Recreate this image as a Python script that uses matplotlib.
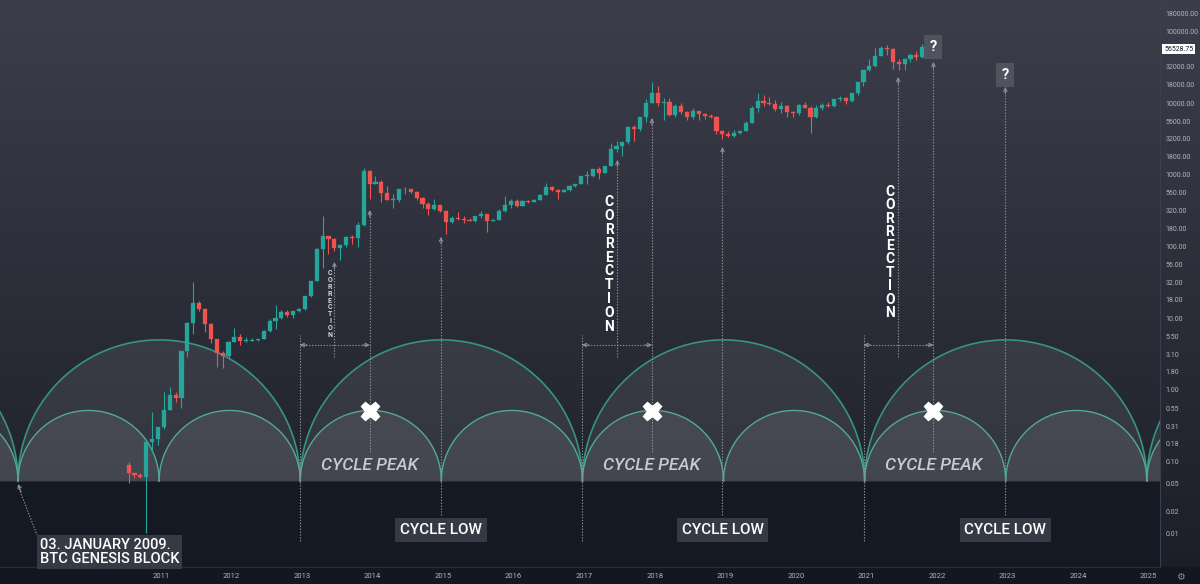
import numpy as np
import matplotlib
matplotlib.use("Agg")
import matplotlib.pyplot as plt
from matplotlib.patches import Rectangle
from matplotlib.ticker import NullLocator
import matplotlib.transforms as mtrans

plt.rcParams['font.family'] = ['Roboto', 'DejaVu Sans']

# ---------------- data (monthly BTC candles, Jul 2010 .. Nov 2021) ----------------
start_year, start_month = 2010, 7
first_open = 0.09
highs = [
    0.10, 0.07, 0.07, 0.19, 0.50, 0.30,
    0.95, 1.10, 0.94, 3.50, 8.90, 31.9, 17.5, 14.0, 8.5, 5.1, 3.5, 4.8,
    7.4, 6.1, 5.4, 5.3, 5.2, 6.9, 9.7, 15.4, 12.9, 12.9, 12.8, 13.8,
    20.5, 33.4, 95, 266, 140, 130, 110, 140, 146, 220, 1242, 1163,
    960, 860, 710, 540, 630, 680, 640, 600, 490, 415, 460, 385,
    320, 265, 300, 263, 248, 268, 316, 284, 244, 330, 500, 465,
    460, 445, 440, 466, 550, 780, 705, 626, 628, 730, 755, 980,
    1150, 1210, 1300, 1350, 2790, 3000, 2900, 4750, 4980, 6470, 11400, 19700,
    17200, 11800, 11700, 9750, 9980, 7750, 8500, 7760, 7400, 7000, 6600, 4250,
    4100, 4200, 4150, 5600, 9100, 13880, 13200, 12300, 10950, 10400, 9500, 7750,
    9600, 10500, 9200, 9450, 10070, 10400, 11450, 12470, 12080, 14100, 19800, 29300,
    41950, 58300, 61800, 64900, 59500, 41300, 42300, 50500, 52900, 67000, 69000,
]
lows = [
    0.05, 0.06, 0.06, 0.01, 0.14, 0.17,
    0.29, 0.52, 0.68, 0.56, 2.90, 6.0, 12.6, 6.5, 4.5, 2.1, 2.0, 2.8,
    4.6, 4.2, 4.7, 4.8, 4.9, 5.2, 6.5, 7.1, 9.9, 10.3, 10.0, 12.3,
    13.1, 19.6, 33, 50, 79, 88, 65, 100, 108, 100, 196, 455,
    740, 425, 450, 340, 420, 550, 565, 445, 350, 275, 320, 300,
    152, 212, 235, 214, 226, 218, 252, 162, 224, 236, 300, 350,
    355, 365, 405, 414, 440, 525, 600, 465, 570, 605, 680, 745,
    750, 935, 890, 1050, 1350, 2100, 1830, 2670, 2970, 4100, 5500, 10000,
    9000, 5900, 6600, 6450, 7050, 5750, 6100, 5880, 6100, 6200, 3700, 3120,
    3350, 3380, 3750, 4080, 5300, 7500, 9100, 9350, 7710, 7300, 6500, 6420,
    6850, 8500, 3850, 6150, 8100, 8900, 8900, 10600, 9850, 10400, 13200, 17600,
    28130, 32300, 45000, 47000, 30000, 28800, 29300, 37300, 39600, 43300, 56000,
]
closes = [
    0.07, 0.065, 0.062, 0.19, 0.21, 0.30,
    0.52, 0.86, 0.78, 3.50, 8.70, 16.1, 13.4, 8.2, 5.1, 3.25, 3.0, 4.7,
    5.5, 4.9, 4.9, 5.0, 5.2, 6.7, 9.3, 10.2, 12.4, 11.2, 12.6, 13.5,
    20.4, 33.4, 93, 139, 129, 97, 106, 135, 133, 198, 1129, 754,
    805, 565, 445, 447, 628, 640, 580, 480, 387, 338, 378, 318,
    217, 254, 244, 236, 230, 263, 284, 230, 236, 314, 377, 430,
    368, 437, 416, 448, 531, 673, 624, 573, 608, 700, 745, 964,
    970, 1190, 1080, 1350, 2300, 2490, 2870, 4730, 4340, 6460, 10000, 13860,
    10200, 10300, 6900, 9250, 7500, 6400, 7730, 7030, 6630, 6370, 4040, 3740,
    3450, 3830, 4100, 5320, 8560, 10800, 10080, 9600, 8300, 9150, 7550, 7200,
    9350, 8540, 6420, 8630, 9450, 9140, 11350, 11650, 10780, 13800, 19700, 28990,
    33100, 45200, 58800, 57700, 37300, 35000, 41500, 47100, 43800, 61300, 56528.75,
]
last_price = 56528.75

price_ticks = [180000, 100000, 32000, 18000, 10000, 5600, 3200, 1800, 1000, 560,
               320, 180, 100, 56, 32, 18, 10, 5.5, 3.1, 1.8, 1.0, 0.55, 0.31,
               0.18, 0.10, 0.05, 0.02, 0.01]
year_ticks = list(range(2011, 2026))

genesis = 2008.975
cycle_starts = [2012.97, 2016.97, 2020.96]
cycle_peaks = [2013.96, 2017.96, 2021.95]
cycle_lows = [2014.97, 2018.96, 2022.97]
corrections = [2013.46, 2017.47, 2021.45]

# ---------------- layout helpers (pixel -> data) ----------------
W, H = 1200, 584
AX_R, AX_B = 1160, 567
X0, PPY = 19.8, 70.55       # x pixel of 2009.0, pixels per year
Y0, PPD = 390.0, 71.7       # y pixel of price 1, pixels per decade


def tx(xp):
    return 2009 + (xp - X0) / PPY


def py(yp):
    return 10 ** ((Y0 - yp) / PPD)


fig = plt.figure(figsize=(W / 100, H / 100), dpi=100)

# background gradient
bg = fig.add_axes([0, 0, 1, 1])
bg.axis('off')
top_c = np.array([60, 63, 75]) / 255
bot_c = np.array([27, 30, 40]) / 255
frac = np.linspace(0, 1, H)[:, None]
grad = (top_c * (1 - frac) + bot_c * frac).reshape(H, 1, 3)
bg.imshow(grad, aspect='auto', extent=[0, 1, 0, 1], transform=bg.transAxes, origin='upper')
bg.add_patch(Rectangle((0, 0), 1, (H - AX_B) / H, color='#131722', transform=bg.transAxes))
bg.set_xlim(0, 1)
bg.set_ylim(0, 1)

ax = fig.add_axes([0, (H - AX_B) / H, AX_R / W, AX_B / H])
ax.set_facecolor('none')
ax.set_yscale('log')
ax.set_xlim(tx(0), tx(AX_R))
ax.set_ylim(py(AX_B), py(0))

# dark area below the arc base
base_y_px = 481
base_p = py(base_y_px)
ax.axhspan(py(AX_B), base_p, color='#151924', zorder=0.5, lw=0)

# ---------------- arcs ----------------
dec_per_year = PPY / PPD
base_log = np.log10(base_p)


def arc(tc, r):
    t = np.linspace(tc - r, tc + r, 600)
    lg = base_log + r * dec_per_year * np.sqrt(np.clip(1 - ((t - tc) / r) ** 2, 0, 1))
    return t, 10 ** lg


for k in range(-1, 5):
    t, p = arc(genesis + 2 + 4 * k, 2.0)
    ax.fill_between(t, base_p, p, color='white', alpha=0.08, lw=0, zorder=1)
    ax.plot(t, p, color='#369482', lw=1.2, zorder=2)
for k in range(-1, 9):
    t, p = arc(genesis + 1 + 2 * k, 1.0)
    ax.fill_between(t, base_p, p, color='white', alpha=0.085, lw=0, zorder=1)
    ax.plot(t, p, color='#52a99a', lw=1.0, zorder=2)

# ---------------- candles ----------------
n = len(closes)
opens = [first_open] + closes[:-1]
tt = np.array([start_year + (start_month - 1 + i + 0.5) / 12 for i in range(n)])
o = np.array(opens); c = np.array(closes); hi = np.array(highs); lo = np.array(lows)
up = c >= o
cols = np.where(up, '#26a69a', '#ef5350')
ax.vlines(tt, lo, hi, colors=cols, lw=0.8, zorder=3)
bottoms = np.minimum(o, c)
heights = np.maximum(np.abs(c - o), bottoms * 0.02)
ax.bar(tt, heights, bottom=bottoms, width=0.7 / 12, color=cols, edgecolor=cols,
       lw=0.2, zorder=3.1)

# ---------------- annotations ----------------
LC = '#8e919a'


def vline(t, ytop, ybot, arrow=True):
    ax.plot([t, t], [py(ybot), py(ytop)], ls=(0, (1.2, 1.4)), color=LC, lw=0.8, zorder=4)
    if arrow:
        ax.annotate('', xy=(t, py(ytop)), xytext=(0, -5), textcoords='offset points',
                    arrowprops=dict(arrowstyle='->', color=LC, lw=0.8, mutation_scale=6,
                                    shrinkA=0, shrinkB=0), zorder=4)


peak_top_px = [210, 118, 62]
low_top_px = [237, 147, 87]
corr_top_px = [262, 160, 77]

for i in range(3):
    vline(cycle_starts[i], 335, 541, arrow=False)
    vline(cycle_peaks[i], peak_top_px[i], 452)
    vline(cycle_lows[i], low_top_px[i], 515)
    vline(corrections[i], corr_top_px[i], 357)
    yh = py(345)
    ax.plot([cycle_starts[i], cycle_peaks[i]], [yh, yh], ls=(0, (1.2, 1.4)), color=LC, lw=0.8, zorder=4)
    ax.annotate('', xy=(cycle_starts[i], yh), xytext=(5, 0), textcoords='offset points',
                arrowprops=dict(arrowstyle='->', color=LC, lw=0.8, mutation_scale=6, shrinkA=0, shrinkB=0))
    ax.annotate('', xy=(cycle_peaks[i], yh), xytext=(-5, 0), textcoords='offset points',
                arrowprops=dict(arrowstyle='->', color=LC, lw=0.8, mutation_scale=6, shrinkA=0, shrinkB=0))

# X marks at cycle peaks
ax.plot(cycle_peaks, [py(411)] * 3, ls='none', marker='X', ms=13, color='white', mec='white', zorder=6)

# CYCLE PEAK labels
for t in cycle_peaks:
    ax.text(t, py(466), 'CYCLE PEAK', ha='center', va='center', fontsize=12.5, style='italic',
            fontweight=500, color='#c9cacf', zorder=6)

# CYCLE LOW labels
for t in cycle_lows:
    ax.text(t, py(530), 'CYCLE LOW', ha='center', va='center', fontsize=11, color='white',
            fontweight=500, zorder=6,
            bbox=dict(boxstyle='square,pad=0.3', fc='#363a45', ec='none'))


def vertical_word(word, xp, ytop, ybot, fs, color):
    pitch = (ybot - ytop) / (len(word) - 1)
    for j, ch in enumerate(word):
        ax.text(tx(xp), py(ytop + j * pitch), ch, ha='center', va='center', fontsize=fs,
                fontweight='bold', color=color, zorder=6)


vertical_word('CORRECTION', 330, 273, 335, 5, '#d6d8de')
vertical_word('CORRECTION', 609, 202, 327, 10, 'white')
vertical_word('CORRECTION', 890, 192, 313, 10, 'white')

# question marks
for xp, yp in [(933, 47), (1005, 75)]:
    ax.text(tx(xp), py(yp), '?', ha='center', va='center', fontsize=10.5, fontweight='bold',
            color='white', zorder=6,
            bbox=dict(boxstyle='square,pad=0.35', fc='#50535e', ec='none'))

# genesis annotation
ax.plot([genesis, tx(37)], [py(486), py(535)], ls=(0, (1.2, 1.4)), color=LC, lw=0.8, zorder=4)
ax.annotate('', xy=(genesis, py(484)), xytext=(tx(21), py(492)),
            arrowprops=dict(arrowstyle='->', color=LC, lw=0.8, mutation_scale=6, shrinkA=0, shrinkB=0))
ax.text(tx(40), py(552), '03. JANUARY 2009.\nBTC GENESIS BLOCK', ha='left', va='center',
        fontsize=10.5, fontweight=500, color='white', linespacing=1.0, zorder=6,
        bbox=dict(boxstyle='square,pad=0.2', fc='#363a45', ec='none'))

# ---------------- axes styling ----------------
ax.yaxis.tick_right()
ax.set_yticks(price_ticks)
ax.set_yticklabels([f'{v:.2f}' for v in price_ticks])
ax.yaxis.set_minor_locator(NullLocator())
ax.tick_params(axis='y', length=0, pad=4, labelsize=5, colors='#b2b5be')
ax.set_xticks(year_ticks)
ax.set_xticklabels([str(y) for y in year_ticks])
ax.tick_params(axis='x', length=0, pad=4, labelsize=5.5, colors='#b2b5be')
for s in ['top', 'left']:
    ax.spines[s].set_visible(False)
ax.spines['right'].set_color('#3b3f4b')
ax.spines['bottom'].set_color('#2a2e39')

# last price label
trans = mtrans.blended_transform_factory(ax.transAxes, ax.transData)
ax.annotate(f'{last_price:.2f}', xy=(1.0, last_price), xycoords=trans, xytext=(3, 0),
            textcoords='offset points', ha='left', va='center', fontsize=5, color='#131722',
            annotation_clip=False,
            bbox=dict(boxstyle='square,pad=0.25', fc='white', ec='none'))

fig.text(1180 / W, 1 - 577 / H, '\u2699', ha='center', va='center', fontsize=7,
         color='#8a8d96', family=['DejaVu Sans'])

fig.savefig('out.png', dpi=100)
